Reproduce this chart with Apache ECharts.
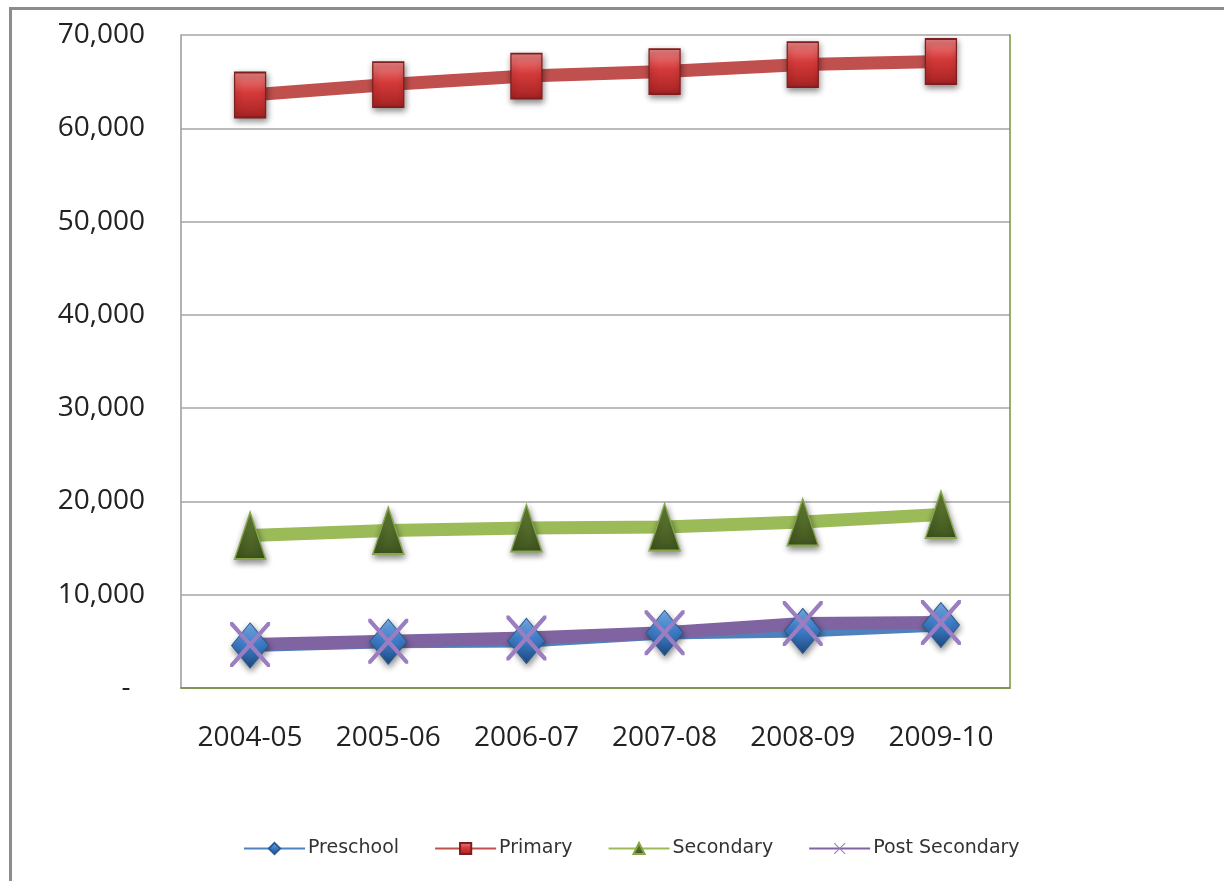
<!DOCTYPE html>
<html>
<head>
<meta charset="utf-8">
<script src="https://cdn.jsdelivr.net/npm/echarts@6/dist/echarts.min.js"></script>
<style>
html,body{margin:0;padding:0;background:#fff;}
#main{width:1224px;height:881px;}
</style>
</head>
<body>
<div id="main"></div>
<script>
const years = ['2004-05','2005-06','2006-07','2007-08','2008-09','2009-10'];
const preschool = [4560, 4960, 5050, 5900, 6110, 6750];
const primary = [63570, 64690, 65600, 66080, 66830, 67160];
const secondary = [16350, 16880, 17150, 17260, 17790, 18600];
const postSecondary = [4660, 5000, 5360, 5920, 6910, 7020];
const yTicks = {min: 0, max: 70000, interval: 10000};

const xPath = 'path://M0,0 L7,0 L50,43 L93,0 L100,0 L100,7 L57,50 L100,93 L100,100 L93,100 L50,57 L7,100 L0,100 L0,93 L43,50 L0,7 Z';

function grad(c0, c1, c2){
  return {type:'linear',x:0,y:0,x2:0,y2:1,colorStops:[{offset:0,color:c0},{offset:0.45,color:c1},{offset:1,color:c2}]};
}
const shadow = {shadowBlur:6, shadowColor:'rgba(0,0,0,0.45)', shadowOffsetX:1, shadowOffsetY:3};

const chart = echarts.init(document.getElementById('main'));
chart.setOption({
  animation:false,
  backgroundColor:'#ffffff',
  graphic:[{type:'rect', shape:{x:10.5,y:8.5,width:3000,height:3000}, style:{fill:'none',stroke:'#8c8c8c',lineWidth:3}, z:-1}],
  grid:{left:181, right:214, top:35, bottom:193, show:false},
  legend:{
    bottom:23, left:243, padding:0,
    itemWidth:61, itemHeight:14, itemGap:35,
    textStyle:{fontFamily:'DejaVu Sans', fontSize:19, color:'#333', padding:[0,0,0,-2]},
    data:['Preschool','Primary','Secondary','Post Secondary']
  },
  xAxis:[{
    type:'category', data:years, boundaryGap:true,
    axisLine:{show:true, lineStyle:{color:'#9a9a9a', width:1.5}},
    axisTick:{show:false},
    axisLabel:{fontFamily:'Open Sans', fontSize:28, color:'#222', margin:36}
  },{
    type:'category', data:years, position:'top',
    axisLine:{show:true, lineStyle:{color:'#77933C', width:1.5}},
    axisTick:{show:false}, axisLabel:{show:false}
  }],
  yAxis:[{
    type:'value', min:yTicks.min, max:yTicks.max, interval:yTicks.interval,
    axisLine:{show:true, lineStyle:{color:'#9a9a9a', width:1.5}},
    axisTick:{show:false},
    splitLine:{lineStyle:{color:'#a6a6a6', width:1.5}},
    axisLabel:{fontFamily:'Open Sans', fontSize:28, color:'#222', margin:36,
      formatter:v => v === 0 ? '-  ' : v.toLocaleString('en-US')}
  },{
    type:'value', min:yTicks.min, max:yTicks.max, interval:yTicks.interval, position:'right',
    axisLine:{show:true, lineStyle:{color:'#77933C', width:1.5}},
    axisTick:{show:false}, axisLabel:{show:false}, splitLine:{show:false}
  }],
  series:[
    {name:'Preschool', type:'line', data:preschool, symbol:'diamond', symbolSize:[37,45],
     lineStyle:{color:'#4F81BD', width:13}, color:'#4F81BD',
     itemStyle:Object.assign({color:grad('#7DB3EE','#3F7FCB','#1E4C82'), borderColor:'#2B5A90', borderWidth:1}, shadow)},
    {name:'Primary', type:'line', data:primary, symbol:'rect', symbolSize:[31,45],
     lineStyle:{color:'#C0504D', width:13}, color:'#C0504D',
     itemStyle:Object.assign({color:grad('#F08A8A','#D53A3A','#A52222'), borderColor:'#7E1E1E', borderWidth:1.5}, shadow)},
    {name:'Secondary', type:'line', data:secondary, symbol:'triangle', symbolSize:[31,47],
     lineStyle:{color:'#9BBB59', width:13}, color:'#9BBB59',
     itemStyle:Object.assign({color:grad('#6D8A3A','#566F2C','#3F531F'), borderColor:'#86A84A', borderWidth:1.5}, shadow)},
    {name:'Post Secondary', type:'line', data:postSecondary, symbol:xPath, symbolSize:[40,45],
     lineStyle:{color:'#8064A2', width:13}, color:'#8064A2',
     itemStyle:{color:'#9B7DC2', borderWidth:0}}
  ]
});
</script>
</body>
</html>
